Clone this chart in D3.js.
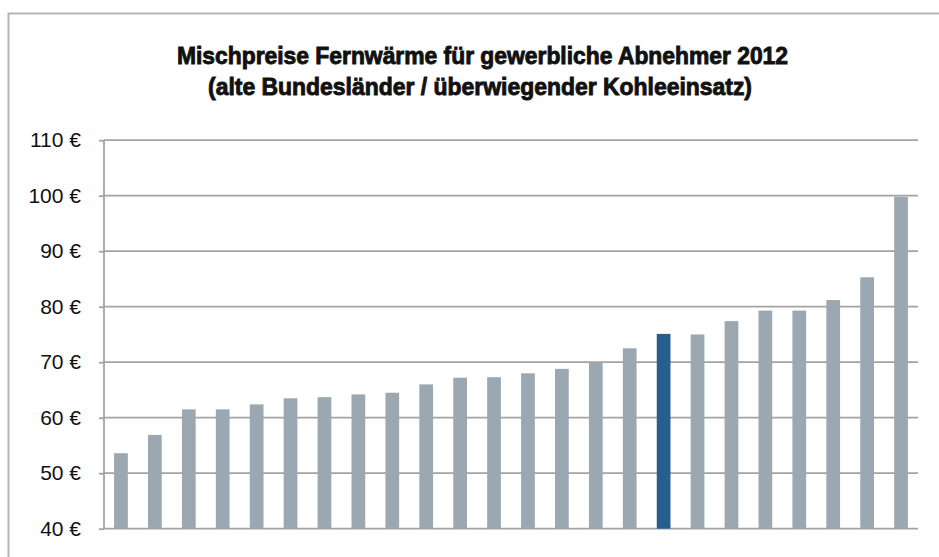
<!DOCTYPE html>
<html>
<head>
<meta charset="utf-8">
<script src="https://cdn.jsdelivr.net/npm/d3@7"></script>
<style>
	body { margin: 0; background: #fff; }
	svg { display: block; }
	.tick text { font-family: "Liberation Sans", Arial, sans-serif; font-size: 21px; fill: #111; }
</style>
</head>
<body>
<svg id="chart" width="939" height="557"></svg>
<script>
// Data
const titleLines = ["Mischpreise Fernwärme für gewerbliche Abnehmer 2012",
	"(alte Bundesländer / überwiegender Kohleeinsatz)"];
const suppliers = d3.range(1, 25).map(String);
const prices = [53.6, 56.9, 61.5, 61.5, 62.4, 63.5, 63.7, 64.2, 64.5, 66.0, 67.2, 67.3,
	68.0, 68.8, 69.9, 72.5, 75.1, 75.0, 77.4, 79.3, 79.3, 81.2, 85.3, 99.8];
const highlighted = [false, false, false, false, false, false, false, false, false, false, false, false,
	false, false, false, false, true, false, false, false, false, false, false, false];
const yTicks = [40, 50, 60, 70, 80, 90, 100, 110];

function whenDocumentLoaded(action) {
	if (document.readyState === "loading") {
		document.addEventListener("DOMContentLoaded", action);
	} else {
		action();
	}
}

whenDocumentLoaded(() => {
	const svg = d3.select("#chart");
	const left = 104, right = 918, top = 140.2, bottom = 528.7;

	const data = prices.map((p, i) => ({name: suppliers[i], value: p, sel: highlighted[i]}));

	// outer frame (runs past the right and bottom edges)
	svg.append("rect")
		.attr("x", 8.5).attr("y", 13.5)
		.attr("width", 960).attr("height", 600)
		.attr("fill", "none")
		.attr("stroke", "#b5b5b5")
		.attr("stroke-width", 2);

	// title
	const widths = [611, 544];
	svg.append("g")
		.selectAll("text")
		.data(titleLines)
		.enter()
			.append("text")
			.text(d => d)
			.attr("x", (d, i) => i === 0 ? 177 : 208)
			.attr("y", (d, i) => i === 0 ? 64 : 95)
			.attr("textLength", (d, i) => widths[i])
			.attr("lengthAdjust", "spacingAndGlyphs")
			.attr("font-family", "'Liberation Sans Narrow', 'Liberation Sans', sans-serif")
			.attr("font-weight", "bold")
			.attr("font-size", 24)
			.attr("fill", "#111")
			.attr("stroke", "#111")
			.attr("stroke-width", 0.9);

	const x = d3.scaleBand()
		.domain(suppliers)
		.range([left, right])
		.paddingInner(0.595)
		.paddingOuter(0.2975);

	const y = d3.scaleLinear()
		.domain([40, 110])
		.range([bottom, top]);

	// gridlines
	svg.append("g")
		.selectAll("line")
		.data(yTicks)
		.enter()
			.append("line")
			.attr("x1", left).attr("x2", right)
			.attr("y1", d => y(d)).attr("y2", d => y(d))
			.attr("stroke", "#a3a3a3")
			.attr("stroke-width", 1.8);

	// bars
	svg.append("g")
		.selectAll("rect")
		.data(data)
		.enter()
			.append("rect")
			.attr("x", d => x(d.name))
			.attr("width", x.bandwidth())
			.attr("y", d => y(d.value))
			.attr("height", d => y(40) - y(d.value))
			.attr("fill", d => d.sel ? "#285e8f" : "#9ba8b1");

	// y axis
	const yAxis = d3.axisLeft(y)
		.tickValues(yTicks)
		.tickSize(5)
		.tickPadding(18)
		.tickFormat(d => d + " €");

	const ag = svg.append("g")
		.attr("transform", `translate(${left},0)`)
		.call(yAxis);
	ag.select(".domain")
		.attr("stroke", "#a3a3a3")
		.attr("stroke-width", 1.8)
		.attr("d", `M0,${top}V${bottom}`);
	ag.selectAll(".tick line")
		.attr("stroke", "#a3a3a3")
		.attr("stroke-width", 1.8);
});
</script>
</body>
</html>
